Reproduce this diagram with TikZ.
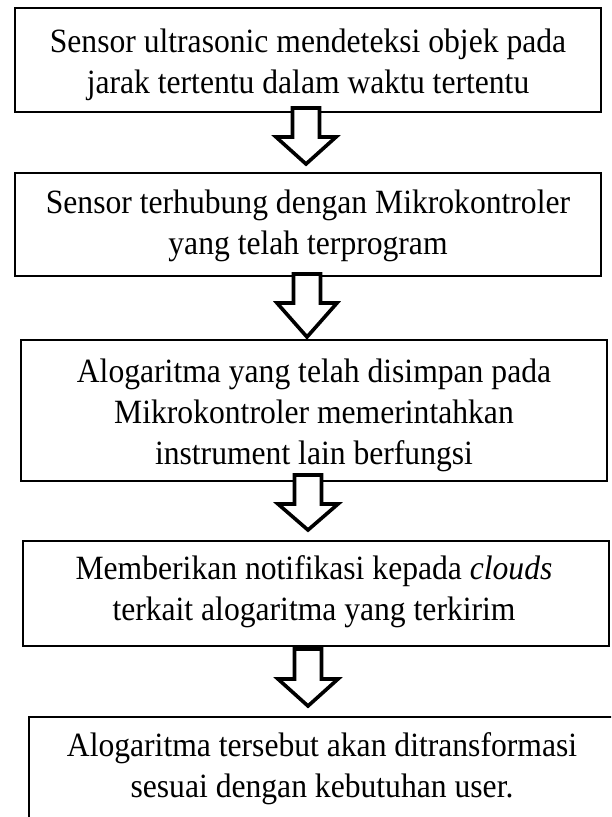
\documentclass[tikz,border=0pt]{standalone}
\usepackage{fontspec}
\setmainfont[FakeStretch=0.93]{Liberation Serif}
\begin{document}
\begin{tikzpicture}[x=1pt,y=-1pt,
  box/.style={draw=black, line width=1.3pt, minimum width=586pt, inner sep=0pt},
  txt/.style={inner sep=0pt, align=center, font=\fontsize{34}{41}\selectfont},
  blockarrow/.style={draw=black, fill=white, line width=3.6pt, line join=miter}]
\useasboundingbox (0,0) rectangle (611,817);
\clip (0,0) rectangle (611,817);
\fill[white] (0,0) rectangle (611,817);
\newcommand\blockarr[4]{%
  \draw[blockarrow] (#1-13.5,#2) -- (#1+13.5,#2) -- (#1+13.5,#3) -- (#1+30,#3)
    -- (#1,#4) -- (#1-30,#3) -- (#1-13.5,#3) -- cycle;}
\node[box, minimum height=104pt] (b1) at (308,60) {};
\node[txt] (t1) at (308,65)
  {Sensor ultrasonic mendeteksi objek pada\\jarak tertentu dalam waktu tertentu};
\node[box, minimum height=103pt] (b2) at (308,224.5) {};
\node[txt] (t2) at (308,226)
  {Sensor terhubung dengan Mikrokontroler\\yang telah terprogram};
\node[box, minimum height=141pt] (b3) at (314,410.5) {};
\node[txt] (t3) at (314,415)
  {Alogaritma yang telah disimpan pada\\Mikrokontroler memerintahkan\\instrument lain berfungsi};
\node[box, minimum height=105pt] (b4) at (316,593.5) {};
\node[txt] (t4) at (314,592)
  {Memberikan notifikasi kepada \textit{clouds}\\terkait alogaritma yang terkirim};
\node[box, minimum height=105pt] (b5) at (322,769.5) {};
\node[txt] (t5) at (322,769)
  {Alogaritma tersebut akan ditransformasi\\sesuai dengan kebutuhan user.};
\blockarr{306}{108}{137}{164}
\blockarr{307}{274}{303}{337}
\blockarr{308}{475}{504}{530}
\blockarr{308}{649}{679}{706}
\end{tikzpicture}
\end{document}
